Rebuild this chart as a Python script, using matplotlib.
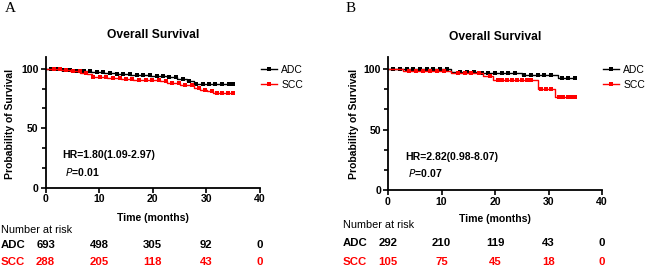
import matplotlib
matplotlib.use("Agg")
import matplotlib.pyplot as plt
import matplotlib.transforms as mtransforms
from matplotlib.lines import Line2D
import numpy as np

plt.rcParams['font.family'] = ['Liberation Sans', 'DejaVu Sans']

W, H = 650, 267

# ---- data ----
groups = ["ADC", "SCC"]
colors = ["black", "red"]
xticks = [0, 10, 20, 30, 40]

# panel A
a_adc_t = [0, 2.8, 5.3, 8.4, 10.9, 13.3, 15.8, 19.5, 22.6, 24.5, 26.4, 27.6, 30.1, 35]
a_adc_s = [100, 99.4, 98.3, 97.2, 96.4, 95.5, 95.0, 94.1, 93.3, 91.3, 89.4, 87.1, 87.1, 87.1]
a_scc_t = [0, 2.8, 4.65, 6.5, 7.75, 8.7, 9.6, 11.5, 14.0, 16.4, 21.4, 22.6, 25.1, 27.6, 28.8, 30.1, 31.3, 35]
a_scc_s = [100, 99.0, 98.1, 96.7, 95.4, 93.4, 92.8, 92.0, 91.2, 90.4, 89.5, 88.4, 86.1, 84.2, 82.5, 81.1, 79.7, 79.7]
a_adc_cens = [1.0, 2.2, 3.4, 4.6, 5.9, 7.1, 8.3, 9.6, 10.8, 12.0, 13.3, 14.5, 15.7, 17.0, 18.2,
              19.4, 20.7, 21.9, 23.1, 24.4, 25.6, 26.8, 28.0, 29.3, 30.5, 31.7, 33.0, 34.2, 35.0]
a_scc_cens = [1.5, 2.7, 3.9, 5.1, 6.4, 7.6, 8.8, 10.1, 11.3, 12.5, 13.8, 15.0, 16.2, 17.5, 18.7,
              19.9, 21.2, 22.4, 23.6, 24.9, 26.1, 27.3, 28.6, 29.8, 31.0, 32.0, 33.0, 34.0, 35.0]
a_risk = [[693, 498, 305, 92, 0], [288, 205, 118, 43, 0]]
a_hr = "HR=1.80(1.09-2.97)"
a_p = "0.01"

# panel B
b_adc_t = [0, 11.8, 17.1, 25.0, 31.8, 35]
b_adc_s = [100, 97.5, 96.5, 95.0, 92.3, 92.3]
b_scc_t = [0, 2.8, 11.8, 17.8, 19.6, 28.0, 31.2, 35]
b_scc_s = [100, 98.6, 96.8, 94.6, 91.3, 83.3, 76.8, 76.8]
b_adc_cens = [1.0, 2.2, 3.5, 4.7, 6.0, 7.2, 8.5, 9.7, 11.0, 13.5, 14.8, 16.0, 17.5, 18.7,
              20.0, 21.3, 22.5, 23.8, 25.5, 26.7, 28.0, 29.2, 30.4, 32.5, 33.7, 35.0]
b_scc_cens = [4.0, 5.3, 6.6, 7.9, 9.2, 10.5, 13.0, 14.3, 15.6, 17.0, 19.0, 20.5, 21.4, 22.3,
              23.2, 24.1, 25.0, 25.9, 26.8, 28.6, 29.5, 30.4, 32.0, 32.8, 33.6, 34.4, 35.0]
b_risk = [[292, 210, 119, 43, 0], [105, 75, 45, 18, 0]]
b_hr = "HR=2.82(0.98-8.07)"
b_p = "0.07"

fig = plt.figure(figsize=(W / 100, H / 100), dpi=100)


def px(x0, y0, x1, y1):
    return [x0 / W, 1 - y1 / H, (x1 - x0) / W, (y1 - y0) / H]


def panel(rect, curves, cens, risk, hr, p, letter, lx, ly, title_xy, ylab_x,
          hr_xy, p_xy, time_y, nar_xy, row_x, row_y, leg_xy):
    ax = fig.add_axes(rect)
    for (t, s), c, col in zip(curves, cens, colors):
        ax.step(t, s, where='post', color=col, lw=1.0)
        t = np.asarray(t)
        s = np.asarray(s)
        idx = np.searchsorted(t, c, side='right') - 1
        ax.plot(c, s[idx], ls='none', marker='s', ms=2.3, color=col, mew=0)
    ax.set_xlim(0, 40)
    ax.set_ylim(0, 110)
    ax.set_xticks(xticks)
    ax.set_yticks([0, 50, 100])
    ax.set_yticks([100 / 6, 200 / 6, 400 / 6, 500 / 6], minor=True)
    for sp in ['top', 'right']:
        ax.spines[sp].set_visible(False)
    for sp in ['left', 'bottom']:
        ax.spines[sp].set_linewidth(1.3)
    ax.tick_params(which='major', length=3.5, width=1.2, labelsize=7.6, pad=1.5)
    ax.tick_params(which='minor', length=3, width=1.2)
    for lab in ax.get_xticklabels() + ax.get_yticklabels():
        lab.set_fontweight('bold')
    ax.spines['left'].set_bounds(0, 110)

    fig.text(title_xy[0] / W, 1 - title_xy[1] / H, "Overall Survival", ha='center',
             va='center', fontsize=8.7, fontweight='bold')
    fig.text(ylab_x / W, 1 - 124 / H, "Probability of Survival", rotation=90,
             ha='center', va='center', fontsize=7.5, fontweight='bold')
    fig.text(hr_xy[0] / W, 1 - hr_xy[1] / H, hr, ha='left', va='center',
             fontsize=7.6, fontweight='bold')
    fig.text(p_xy[0] / W, 1 - p_xy[1] / H, r"$\bf{\it{P}}$" + "=" + p, ha='left',
             va='center', fontsize=7.6, fontweight='bold')
    fig.text((rect[0] + rect[2] / 2), 1 - time_y / H, "Time (months)", ha='center',
             va='center', fontsize=7.6, fontweight='bold')
    fig.text(lx / W, 1 - ly / H, letter, family='Liberation Serif', fontsize=11,
             ha='left', va='center')

    fig.text(nar_xy[0] / W, 1 - nar_xy[1] / H, "Number at risk", ha='left',
             va='center', fontsize=7.8)
    trans = mtransforms.blended_transform_factory(ax.transData, fig.transFigure)
    for g, col, vals, ry in zip(groups, colors, risk, row_y):
        fig.text(row_x / W, 1 - ry / H, g, ha='left', va='center', fontsize=8.2,
                 fontweight='bold', color=col)
        for xv, v in zip(xticks, vals):
            ax.text(xv, 1 - ry / H, str(v), transform=trans, ha='center', va='center',
                    fontsize=8.2, fontweight='bold', color=col, clip_on=False)

    handles = [Line2D([], [], color=col, lw=1.0, marker='s', ms=2.3, mew=0)
               for col in colors]
    fig.legend(handles, groups, loc='upper left',
               bbox_to_anchor=(leg_xy[0] / W, 1 - leg_xy[1] / H), frameon=False,
               fontsize=7.5, handlelength=1.5, handletextpad=0.45, labelspacing=0.45,
               borderpad=0, borderaxespad=0)
    return ax


panel(px(45.5, 57, 260, 187.5),
      [(a_adc_t, a_adc_s), (a_scc_t, a_scc_s)], [a_adc_cens, a_scc_cens],
      a_risk, a_hr, a_p, "A", 5, 9, (153, 35), 10, (62, 155), (65, 172), 218,
      (1, 230), 1, (245, 262), (261, 65))

panel(px(388, 57, 602, 190),
      [(b_adc_t, b_adc_s), (b_scc_t, b_scc_s)], [b_adc_cens, b_scc_cens],
      b_risk, b_hr, b_p, "B", 346, 9, (495, 37), 354, (405, 157), (408, 173), 219,
      (343, 225), 343, (243, 262), (603, 65))

fig.savefig("out.png", dpi=100)
